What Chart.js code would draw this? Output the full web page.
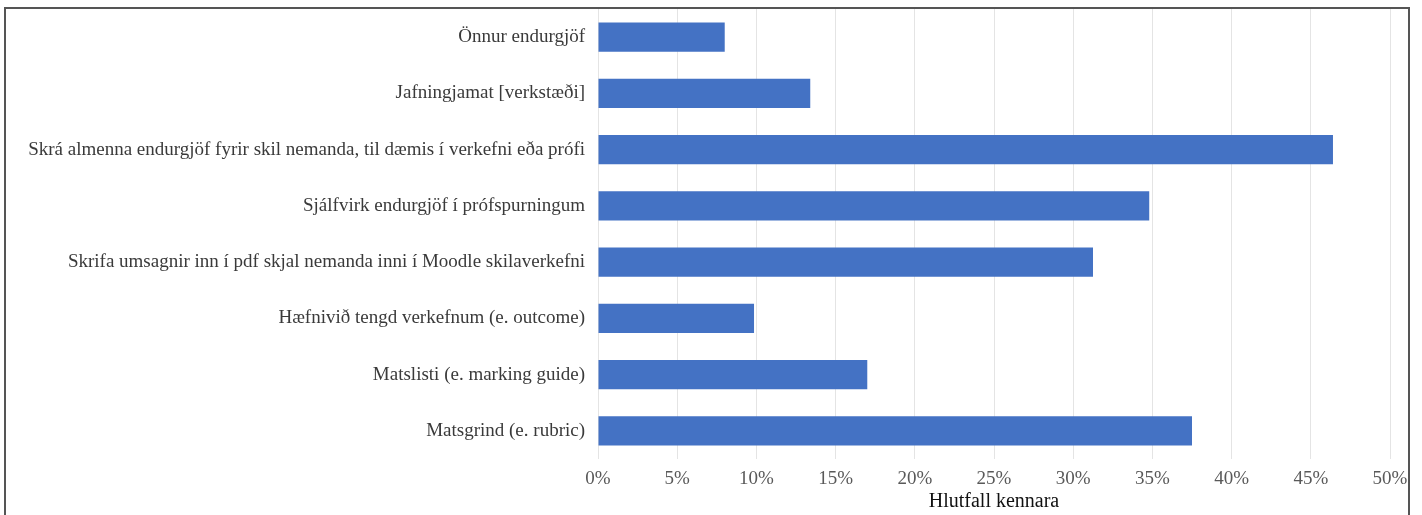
<!DOCTYPE html>
<html>
<head>
<meta charset="utf-8">
<script src="https://cdn.jsdelivr.net/npm/chart.js@4"></script>
<style>
  html, body { margin: 0; padding: 0; background: #fff; }
  #wrap { position: relative; width: 1422px; height: 515px; overflow: hidden; }
  #frame { position: absolute; left: 4px; top: 7px; width: 1406px; height: 600px;
           border: 2px solid #555; box-sizing: border-box; pointer-events: none; }
</style>
</head>
<body>
<div id="wrap">
  <canvas id="feedback"></canvas>
  <div id="frame"></div>
</div>
<script>
const categories = [
  'Önnur endurgjöf',
  'Jafningjamat [verkstæði]',
  'Skrá almenna endurgjöf fyrir skil nemanda, til dæmis í verkefni eða prófi',
  'Sjálfvirk endurgjöf í prófspurningum',
  'Skrifa umsagnir inn í pdf skjal nemanda inni í Moodle skilaverkefni',
  'Hæfnivið tengd verkefnum (e. outcome)',
  'Matslisti (e. marking guide)',
  'Matsgrind (e. rubric)'
];
const shares = [8.0, 13.4, 46.4, 34.8, 31.25, 9.85, 17.0, 37.5];
const xTicks = [0, 5, 10, 15, 20, 25, 30, 35, 40, 45, 50];

const serif = '"Liberation Serif", "DejaVu Serif", serif';

const data = {
  labels: categories,
  datasets: [{
    label: 'Hlutfall kennara',
    data: shares,
    backgroundColor: '#4472C4',
    borderWidth: 0,
    barPercentage: 0.52,
    categoryPercentage: 1.0
  }]
};

const config = {
  type: 'bar',
  data: data,
  options: {
    indexAxis: 'y',
    responsive: true,
    maintainAspectRatio: false,
    animation: false,
    layout: { padding: { top: 9, right: 32, bottom: 0, left: 0 } },
    plugins: { legend: { display: false }, tooltip: { enabled: false } },
    scales: {
      x: {
        min: 0,
        max: 50,
        afterBuildTicks: axis => { axis.ticks = xTicks.map(v => ({ value: v })); },
        afterFit: axis => { axis.height = 56; axis.paddingLeft = 0; axis.paddingRight = 0; },
        grid: { color: '#e4e4e4', lineWidth: 1, drawTicks: false },
        border: { display: false },
        ticks: {
          padding: 9,
          color: '#595959',
          font: { family: serif, size: 19 },
          callback: v => v + '%'
        },
        title: {
          display: true,
          text: 'Hlutfall kennara',
          color: '#111',
          font: { family: serif, size: 20 },
          padding: { top: 0, bottom: 1 }
        }
      },
      y: {
        afterFit: axis => { axis.width = 598; axis.paddingTop = 0; axis.paddingBottom = 0; },
        grid: { display: false, drawTicks: false },
        border: { display: false },
        ticks: {
          padding: 13,
          color: '#3a3a3a',
          font: { family: serif, size: 19 }
        }
      }
    }
  }
};

const feedbackChart = new Chart(document.getElementById('feedback'), config);
</script>
</body>
</html>
